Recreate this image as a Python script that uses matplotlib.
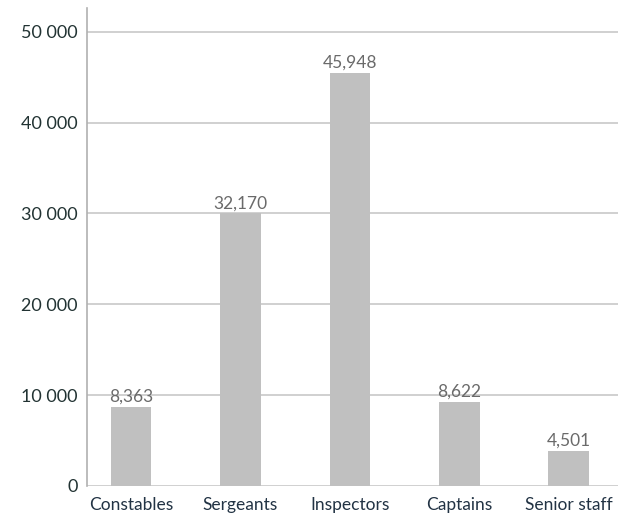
import matplotlib
matplotlib.use("Agg")
import matplotlib.pyplot as plt

categories = ["Constables", "Sergeants", "Inspectors", "Captains", "Senior staff"]
# bar heights as drawn in the picture
heights = [8700, 30000, 45500, 9250, 3850]
# value labels printed above the bars
value_labels = ["8,363", "32,170", "45,948", "8,622", "4,501"]
yticks = [0, 10000, 20000, 30000, 40000, 50000]
ytick_labels = ["0", "10 000", "20 000", "30 000", "40 000", "50 000"]

plt.rcParams["font.family"] = ["Lato", "DejaVu Sans"]

fig = plt.figure(figsize=(6.18, 5.25), dpi=100)
ax = fig.add_axes([0.141, 0.0743, 0.859, 0.911])

x = range(len(categories))
ax.bar(x, heights, width=0.37, color="#c0c0c0", zorder=2)
for i, (h, lab) in enumerate(zip(heights, value_labels)):
    ax.text(i, h + 250, lab, ha="center", va="bottom", fontsize=12.5,
            color="#6a6a6a", zorder=3)

ax.set_xlim(-0.4, 4.45)
ax.set_ylim(0, 52640)
ax.set_yticks(yticks)
ax.set_yticklabels(ytick_labels, fontsize=13, color="#223333")
ax.set_xticks(list(x))
ax.set_xticklabels(categories, fontsize=12.5, color="#223344")
ax.tick_params(axis="y", length=0, pad=7)
ax.tick_params(axis="x", length=0, pad=8)

ax.grid(axis="y", color="#c8c8c8", linewidth=1.2, zorder=1)
ax.grid(axis="x", visible=False)
for side in ["top", "right", "bottom"]:
    ax.spines[side].set_visible(False)
ax.spines["left"].set_color("#b0b0b0")
ax.spines["left"].set_linewidth(1.2)

fig.savefig("out.png", dpi=100)
